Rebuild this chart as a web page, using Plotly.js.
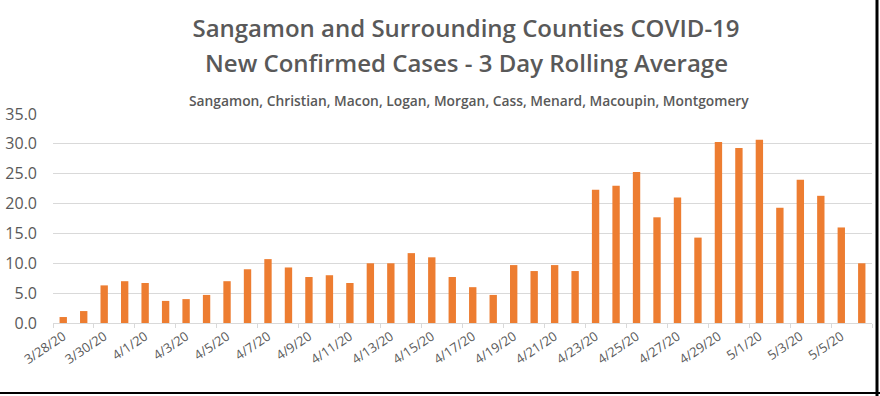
<!DOCTYPE html>
<html>
<head>
<meta charset="utf-8">
<script src="https://cdn.plot.ly/plotly-3.0.1.min.js"></script>
<style>html,body{margin:0;padding:0;background:#fff;}#chart{width:880px;height:396px;}</style>
</head>
<body>
<div id="chart"></div>
<script>
const dates = ["3/28/20","3/29/20","3/30/20","3/31/20","4/1/20","4/2/20","4/3/20","4/4/20","4/5/20","4/6/20",
  "4/7/20","4/8/20","4/9/20","4/10/20","4/11/20","4/12/20","4/13/20","4/14/20","4/15/20","4/16/20",
  "4/17/20","4/18/20","4/19/20","4/20/20","4/21/20","4/22/20","4/23/20","4/24/20","4/25/20","4/26/20",
  "4/27/20","4/28/20","4/29/20","4/30/20","5/1/20","5/2/20","5/3/20","5/4/20","5/5/20","5/6/20"];
const avgCases = [1.0,2.0,6.3,7.0,6.7,3.7,4.0,4.7,7.0,9.0,
  10.7,9.3,7.7,8.0,6.7,10.0,10.0,11.7,11.0,7.7,
  6.0,4.7,9.7,8.7,9.7,8.7,22.3,23.0,25.3,17.7,
  21.0,14.3,30.3,29.3,30.7,19.3,24.0,21.3,16.0,10.0];
const yTicks = [0,5,10,15,20,25,30,35];
const titleLine1 = "Sangamon and Surrounding Counties COVID-19";
const titleLine2 = "New Confirmed Cases - 3 Day Rolling Average";
const subtitle = "Sangamon, Christian, Macon, Logan, Morgan, Cass, Menard, Macoupin, Montgomery";

const labelDates = dates.filter((d,i)=> i%2===0);
const boundaryTicks = dates.filter((d,i)=> i%2===0).map((d,k)=> k*2-0.5).concat([dates.length-0.5]);

const font = "'Open Sans', sans-serif";
const gray = "#595959";

const trace = {
  type: "bar", x: dates, y: avgCases,
  marker: {color: "#ED7D31"},
  hoverinfo: "x+y"
};
const tickTrace = {
  type: "scatter", x: [0], y: [0], xaxis: "x2", mode: "markers",
  marker: {opacity: 0}, hoverinfo: "skip", showlegend: false
};

const layout = {
  width: 880, height: 396,
  margin: {l: 53, r: 8, t: 114, b: 73},
  paper_bgcolor: "#fff", plot_bgcolor: "#fff",
  showlegend: false,
  bargap: 0.64,
  font: {family: font, color: gray},
  title: {
    text: titleLine1,
    font: {family: font, size: 24, color: gray, weight: 600},
    x: 466/880, xanchor: "center", xref: "container",
    y: 1 - 29/396, yanchor: "middle", yref: "container"
  },
  annotations: [
    {text: titleLine2, xref: "paper", yref: "paper",
     x: (466-53)/819, y: (323-63)/209, xanchor: "center", yanchor: "middle",
     showarrow: false, font: {family: font, size: 24, color: gray, weight: 600}},
    {text: subtitle, xref: "paper", yref: "paper",
     x: (469-53)/819, y: (323-100)/209, xanchor: "center", yanchor: "middle",
     showarrow: false, font: {family: font, size: 13.8, color: gray, weight: 600}}
  ],
  xaxis: {
    type: "category",
    tickmode: "array", tickvals: labelDates, ticktext: labelDates,
    tickangle: -34, tickfont: {size: 13, color: gray, family: font},
    showgrid: false, showline: true, linecolor: "#d9d9d9", linewidth: 1,
    ticks: "", zeroline: false, fixedrange: true,
    range: [-0.5, dates.length - 0.5]
  },
  xaxis2: {
    overlaying: "x", range: [-0.5, dates.length - 0.5], type: "linear",
    tickmode: "array", tickvals: boundaryTicks, showticklabels: false,
    ticks: "outside", ticklen: 4, tickcolor: "#d9d9d9", tickwidth: 1,
    showgrid: false, showline: false, zeroline: false, side: "bottom", anchor: "y"
  },
  yaxis: {
    range: [0, 35], tickmode: "array", tickvals: yTicks,
    ticktext: yTicks.map(v => v.toFixed(1)),
    tickfont: {size: 16, color: gray, family: font},
    showgrid: true, gridcolor: "#d9d9d9", gridwidth: 1,
    zeroline: false, showline: false, ticks: "",
    ticklabelstandoff: 15
  },
  shapes: [
    {type: "line", xref: "paper", yref: "paper", x0: (877-53)/819, x1: (877-53)/819, y0: (323-0)/209, y1: (323-396)/209,
     line: {color: "#000", width: 3}},
    {type: "line", xref: "paper", yref: "paper", x0: -53/819, x1: (880-53)/819, y0: (323-393)/209, y1: (323-393)/209,
     line: {color: "#000", width: 2}}
  ]
};

Plotly.newPlot("chart", [trace, tickTrace], layout, {displayModeBar: false, staticPlot: true});
</script>
</body>
</html>
